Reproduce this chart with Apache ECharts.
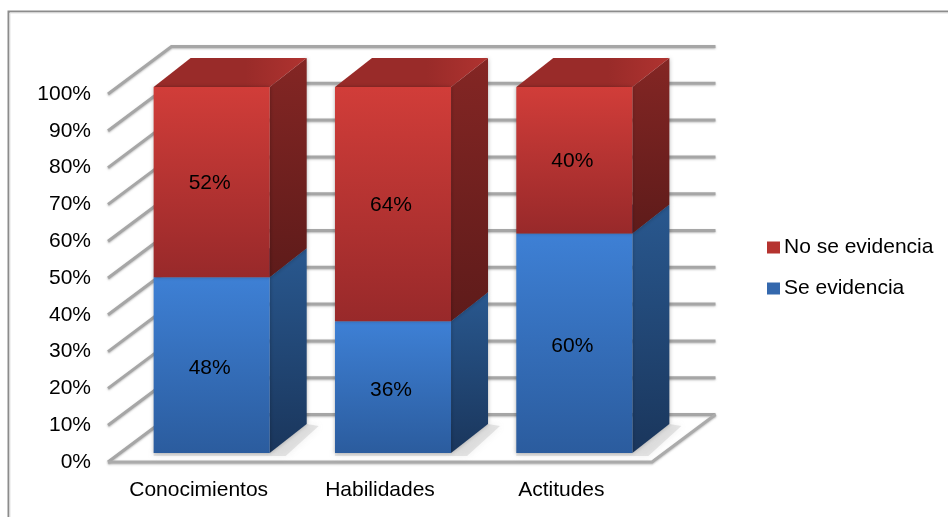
<!DOCTYPE html>
<html><head><meta charset="utf-8">
<style>html,body{margin:0;padding:0;background:#fff}#c{width:948px;height:517px}</style>
<script src="https://cdn.jsdelivr.net/npm/echarts@6/dist/echarts.min.js"></script>
</head><body><div id="c"></div>
<script>
const categories = ['Conocimientos','Habilidades','Actitudes'];
const seEvidencia = [48,36,60];
const noSeEvidencia = [52,64,40];
const yTicks = [0,10,20,30,40,50,60,70,80,90,100];
const FONT = '"Liberation Sans", Arial, sans-serif';
const FS = 21;
const lin = (a,b,x0,y0,x1,y1)=>({type:'linear',x:x0,y:y0,x2:x1,y2:y1,colorStops:[{offset:0,color:a},{offset:1,color:b}]});
const DX=37, DY=-29, OX=13, OY=-9, SCALE=366/368;
const WX=63.5, WY=-47.5;
const RED={front:['#d13d39','#98292a'],side:['#842624','#5e1b1a'],top:'#992b29',topHi:'#b03330',labelDy:1};
const BLUE={front:['#3e80d5','#2b5c9e'],side:['#29588f','#1a365c'],top:'#29588f',topHi:'#2f66a6',labelDy:3};
function poly(points,fill,extra){return {type:'polygon',shape:{points},style:Object.assign({fill},extra||{})};}
function barRender(pal,labels){
  return function(params,api){
    const cat=api.value(0),lo=api.value(1),hi=api.value(2);
    const c0=api.coord([cat,0]);
    const bandW=api.size([1,0])[0];
    const w=bandW*0.64;
    const y0=c0[1]+OY;
    const yLo=y0-(c0[1]-api.coord([cat,lo])[1])*SCALE;
    const yHi=y0-(c0[1]-api.coord([cat,hi])[1])*SCALE;
    const xL=c0[0]+OX-w/2,xR=xL+w;
    const sh={shadowBlur:4,shadowColor:'rgba(0,0,0,0.3)'};
    const kids=[];
    kids.push(poly([[xR,yHi],[xR+DX,yHi+DY],[xR+DX,yLo+DY],[xR,yLo]],lin(pal.side[0],pal.side[1],0,0,0,1),sh));
    kids.push(poly([[xL,yHi],[xR,yHi],[xR+DX,yHi+DY],[xL+DX,yHi+DY]],lin(pal.top,pal.topHi,0.6,0.6,1,0.6)));
    kids.push(poly([[xL,yLo],[xL,yHi],[xR,yHi],[xR,yLo]],lin(pal.front[0],pal.front[1],0,0,0,1),sh));
    kids.push({type:'text',style:{text:labels[cat]+'%',x:(xL+xR)/2-2,y:(yLo+yHi)/2+pal.labelDy,align:'center',verticalAlign:'middle',font:FS+'px '+FONT,fill:'#000'}});
    return {type:'group',children:kids};
  };
}
function floorShadowRender(params,api){
  const cat=api.value(0);
  const c0=api.coord([cat,0]);
  const w=api.size([1,0])[0]*0.64;
  const y0=c0[1]+OY,xL=c0[0]+OX-w/2,xR=xL+w;
  return {type:'group',children:[
    poly([[xL,y0-2],[xR,y0-2],[xR+DX,y0+DY],[xR+DX+12,y0+DY+2],[xR+16,y0+3],[xL,y0+3]],'rgba(170,170,170,0.28)',{shadowBlur:7,shadowColor:'rgba(150,150,150,0.55)'})
  ]};
}
function wallRender(params,api){
  const v=api.value(1);
  const cs=params.coordSys;
  const y=api.coord([0,v])[1];
  const xL=cs.x,xR=cs.x+cs.width;
  const ln={stroke:'#a6a6a6',lineWidth:3,fill:null,shadowBlur:2,shadowColor:'rgba(120,120,120,0.5)',shadowOffsetY:1};
  const kids=[];
  if(v===0){
    kids.push(poly([[xL,y],[xL+WX,y+WY],[xR+WX,y+WY],[xR,y]],'#ffffff'));
  }
  kids.push({type:'polyline',shape:{points:[[xL,y],[xL+WX,y+WY],[xR+WX,y+WY]]},style:ln});
  if(v===0){
    kids.push({type:'polyline',shape:{points:[[xL,y],[xR,y],[xR+WX,y+WY]]},style:{stroke:'#ababab',lineWidth:3,fill:null,shadowBlur:2,shadowColor:'rgba(120,120,120,0.5)',shadowOffsetY:1}});
  }
  return {type:'group',children:kids};
}
const catIdx=categories.map((_,i)=>i);
const chart=echarts.init(document.getElementById('c'),null,{renderer:'canvas'});
chart.setOption({
  animation:false,
  backgroundColor:'#fff',
  textStyle:{fontFamily:FONT},
  grid:{left:108,top:94,width:544,height:368,containLabel:false},
  xAxis:{type:'category',data:categories,axisLine:{show:false},axisTick:{show:false},splitLine:{show:false},
    axisLabel:{fontSize:FS,color:'#000',fontFamily:FONT,margin:18,interval:0}},
  yAxis:{type:'value',min:0,max:100,interval:10,axisLine:{show:false},axisTick:{show:false},splitLine:{show:false},
    axisLabel:{fontSize:FS,color:'#000',fontFamily:FONT,margin:17,padding:[2,0,0,0],formatter:'{value}%'}},
  legend:{orient:'vertical',left:767,top:237,padding:0,itemWidth:13,itemHeight:12,itemGap:20,icon:'rect',
    data:['No se evidencia','Se evidencia'],
    textStyle:{fontSize:FS,color:'#000',fontFamily:FONT,padding:[0,0,0,-1]},selectedMode:false},
  graphic:[
    {type:'polyline',silent:true,shape:{points:[[8.5,517],[8.5,11.5],[948,11.5]]},style:{stroke:'#8c8c8c',lineWidth:2,fill:null}},
    {type:'polyline',silent:true,shape:{points:[[10,517],[10,13],[948,13]]},style:{stroke:'#e4e4e4',lineWidth:1,fill:null}}
  ],
  series:[
    {type:'custom',name:'walls',z:1,renderItem:wallRender,encode:{x:0,y:1},data:yTicks.map(v=>[0,v])},
    {type:'custom',name:'floorShadow',z:2,renderItem:floorShadowRender,encode:{x:0,y:1},data:catIdx.map(i=>[i,0])},
    {type:'custom',name:'Se evidencia',z:3,renderItem:barRender(BLUE,seEvidencia),encode:{x:0,y:[1,2]},
      itemStyle:{color:'#3468ad'},data:catIdx.map(i=>[i,0,seEvidencia[i]])},
    {type:'custom',name:'No se evidencia',z:4,renderItem:barRender(RED,noSeEvidencia),encode:{x:0,y:[1,2]},
      itemStyle:{color:'#b5332f'},data:catIdx.map(i=>[i,seEvidencia[i],seEvidencia[i]+noSeEvidencia[i]])}
  ]
});
</script></body></html>
